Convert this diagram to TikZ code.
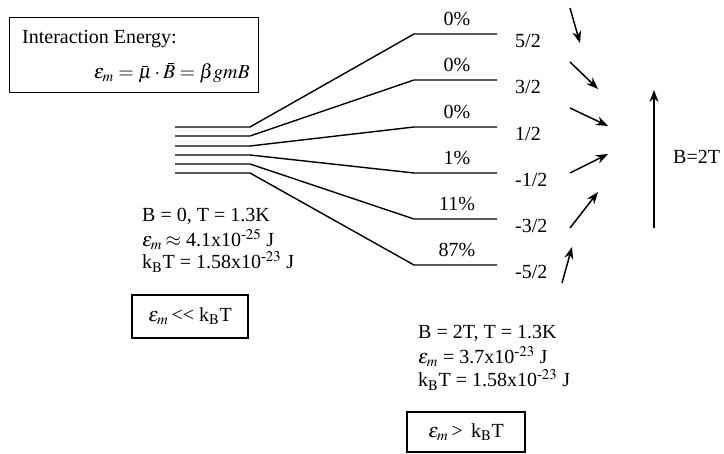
\documentclass[tikz,border=0pt]{standalone}
\usepackage{amsmath}
\usepackage{mathptmx}
\usepackage{fontspec}
\setmainfont{Liberation Serif}
\usepackage{tikz}
\usetikzlibrary{arrows.meta,positioning}

\tikzset{
  txt/.style={font=\fontsize{20}{24}\selectfont, inner sep=0pt},
  level/.style={line width=1.4pt},
  frame/.style={draw, line width=1.3pt, inner sep=0pt},
  spin/.style={line width=1.5pt, -{Stealth[length=12pt,width=9pt]}}
}

\begin{document}
\begin{tikzpicture}[x=1pt,y=-1pt]
\useasboundingbox (0,0) rectangle (724,454);

%Energy box
\node[frame, minimum width=249pt, minimum height=75pt, anchor=north west] (ebox) at (9,17) {};
\node[txt, anchor=base west] (etitle) at (22,44) {Interaction Energy:};
\node[txt, anchor=base east] (eform) at (250,79) {$\varepsilon_m = \bar{\mu}\cdot\bar{B} = \beta g m B$};

%Levels at B=0
\coordinate (L1) at (175,127); \coordinate (K1) at (250,127);
\coordinate (L2) at (175,136); \coordinate (K2) at (250,136);
\coordinate (L3) at (175,146); \coordinate (K3) at (250,146);
\coordinate (L4) at (175,155); \coordinate (K4) at (250,155);
\coordinate (L5) at (175,164); \coordinate (K5) at (250,164);
\coordinate (L6) at (175,173); \coordinate (K6) at (250,173);

%Levels at B=2T
\coordinate (R1) at (414,34);  \coordinate (E1) at (497,34);
\coordinate (R2) at (414,80);  \coordinate (E2) at (497,80);
\coordinate (R3) at (414,127); \coordinate (E3) at (497,127);
\coordinate (R4) at (414,173); \coordinate (E4) at (497,173);
\coordinate (R5) at (414,219); \coordinate (E5) at (497,219);
\coordinate (R6) at (414,265); \coordinate (E6) at (497,265);

\draw[level] (L1) -- (K1) -- (R1) -- (E1);
\draw[level] (L2) -- (K2) -- (R2) -- (E2);
\draw[level] (L3) -- (K3) -- (R3) -- (E3);
\draw[level] (L4) -- (K4) -- (R4) -- (E4);
\draw[level] (L5) -- (K5) -- (R5) -- (E5);
\draw[level] (L6) -- (K6) -- (R6) -- (E6);

%Populations
\node[txt, anchor=base] (p1) at (457,26)  {0\%};
\node[txt, anchor=base] (p2) at (457,72)  {0\%};
\node[txt, anchor=base] (p3) at (457,119) {0\%};
\node[txt, anchor=base] (p4) at (457,165) {1\%};
\node[txt, anchor=base] (p5) at (457,211) {11\%};
\node[txt, anchor=base] (p6) at (457,257) {87\%};

%Quantum numbers
\node[txt, anchor=base west] (m1) at (515,48)  {5/2};
\node[txt, anchor=base west] (m2) at (515,94)  {3/2};
\node[txt, anchor=base west] (m3) at (515,141) {1/2};
\node[txt, anchor=base west] (m4) at (515,187) {-1/2};
\node[txt, anchor=base west] (m5) at (515,233) {-3/2};
\node[txt, anchor=base west] (m6) at (515,279) {-5/2};

%Spins
\coordinate (s1a) at (570,8);   \coordinate (s1b) at (580,43);
\coordinate (s2a) at (570,62);  \coordinate (s2b) at (598,89);
\coordinate (s3a) at (570,108); \coordinate (s3b) at (608,126);
\coordinate (s4a) at (570,173); \coordinate (s4b) at (608,154);
\coordinate (s5a) at (570,228); \coordinate (s5b) at (598,192);
\coordinate (s6a) at (562,283); \coordinate (s6b) at (572,247);
\draw[spin] (s1a) -- (s1b);
\draw[spin] (s2a) -- (s2b);
\draw[spin] (s3a) -- (s3b);
\draw[spin] (s4a) -- (s4b);
\draw[spin] (s5a) -- (s5b);
\draw[spin] (s6a) -- (s6b);

%Field
\coordinate (fa) at (654,228); \coordinate (fb) at (654,90);
\draw[spin] (fa) -- (fb);
\node[txt, anchor=base west] (field) at (673,164) {B=2T};

%Zero field values
\node[txt, anchor=base west] (z1) at (142,222) {B = 0, T = 1.3K};
\node[txt, anchor=base west] (z2) at (142,247) {$\varepsilon_m$\,$\approx$ 4.1x10$^{\text{-}25}$ J};
\node[txt, anchor=base west] (z3) at (142,269) {k$_\mathrm{B}$T = 1.58x10$^{\text{-}23}$ J};
\node[frame, txt, minimum width=116pt, minimum height=43pt] (zbox) at (190,316.5) {$\varepsilon_m$\,{<}{<} k$_\mathrm{B}$T};

%High field values
\node[txt, anchor=base west] (h1) at (418,339) {B = 2T, T = 1.3K};
\node[txt, anchor=base west] (h2) at (418,364) {$\varepsilon_m$ = 3.7x10$^{\text{-}23}$ J};
\node[txt, anchor=base west] (h3) at (418,387) {k$_\mathrm{B}$T = 1.58x10$^{\text{-}23}$ J};
\node[frame, txt, minimum width=118pt, minimum height=40pt] (hbox) at (466,432) {$\varepsilon_m$\,>\, k$_\mathrm{B}$T};
\end{tikzpicture}
\end{document}
